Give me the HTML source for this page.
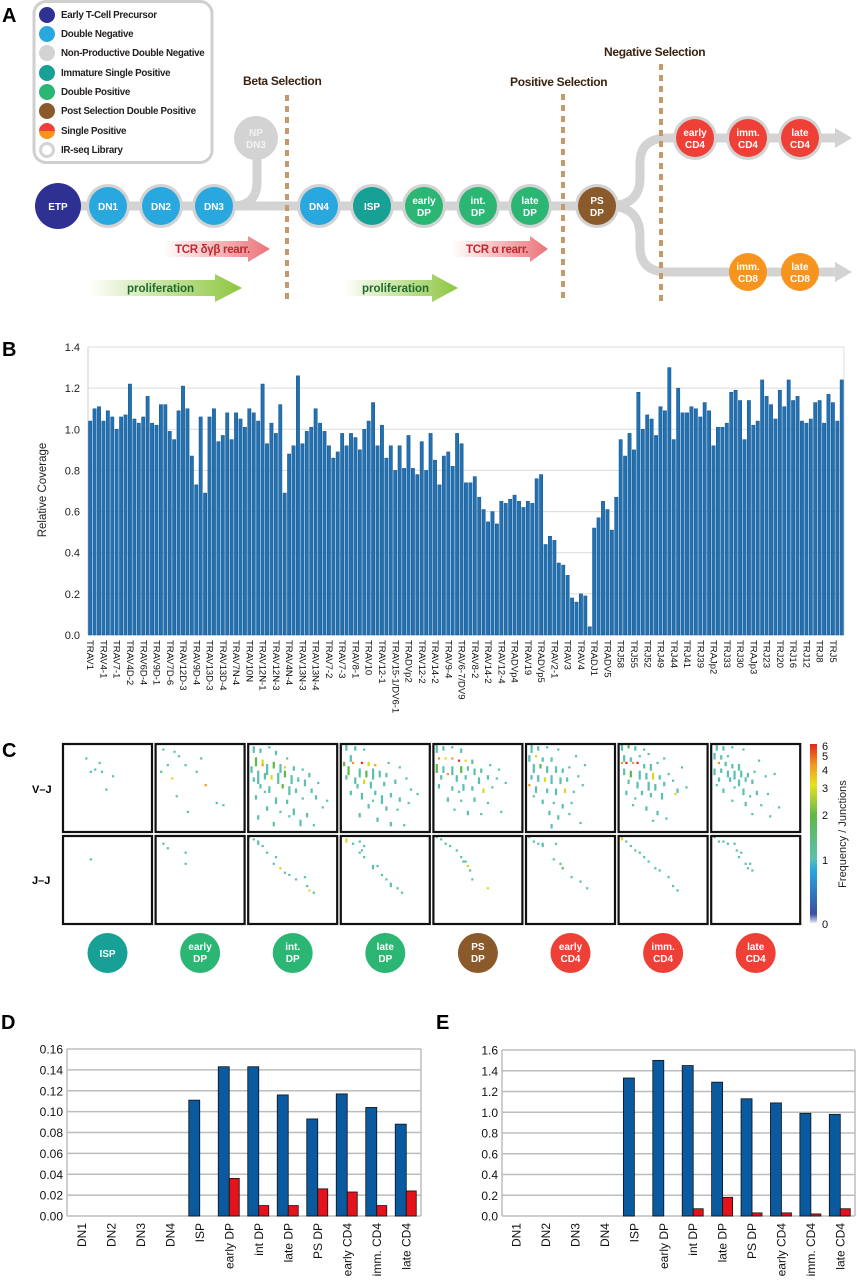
<!DOCTYPE html>
<html><head><meta charset="utf-8">
<style>
html,body{margin:0;padding:0;background:#fff;}
svg{display:block;font-family:"Liberation Sans",sans-serif;}
.lg{font-size:9.8px;font-weight:bold;fill:#231f20;letter-spacing:-0.3px;}
.ct{font-size:10px;font-weight:bold;fill:#fff;text-anchor:middle;}
.sel{font-size:12px;font-weight:bold;fill:#3a2212;letter-spacing:-0.3px;}
.tick{font-size:11px;fill:#222;}
.pl{font-size:20px;font-weight:bold;fill:#000;}
</style></head>
<body>
<svg id="fig" width="857" height="1280" viewBox="0 0 857 1280" xmlns="http://www.w3.org/2000/svg">
<defs>
<linearGradient id="gRed" x1="0" x2="1"><stop offset="0" stop-color="#e8646a" stop-opacity="0"/><stop offset="1" stop-color="#e8646a" stop-opacity="0.9"/></linearGradient>
<linearGradient id="gGreen" x1="0" x2="1"><stop offset="0" stop-color="#8dc63f" stop-opacity="0"/><stop offset="1" stop-color="#8dc63f"/></linearGradient>
<linearGradient id="gSP" x1="0" y1="0" x2="0" y2="1"><stop offset="0.5" stop-color="#ee4036"/><stop offset="0.5" stop-color="#f7941d"/></linearGradient>
<linearGradient id="gCbar" x1="0" y1="1" x2="0" y2="0">
<stop offset="0" stop-color="#e8e8f4"/><stop offset="0.05" stop-color="#3a4fa0"/><stop offset="0.3" stop-color="#27a9e1"/><stop offset="0.36" stop-color="#5cc0b0"/><stop offset="0.6" stop-color="#5fb848"/><stop offset="0.77" stop-color="#e6e21e"/><stop offset="0.88" stop-color="#f59a1e"/><stop offset="1" stop-color="#e0261e"/>
</linearGradient>
</defs>

<!-- PANEL A -->
<g>
<text class="pl" x="2" y="22">A</text>
<g>
<rect x="34" y="1.5" width="178" height="161" rx="12" fill="#fff" stroke="#cfcfcf" stroke-width="3"/>
<g><circle cx="47" cy="15" r="8" fill="#2e3192"/><text class="lg" x="61" y="18">Early T-Cell Precursor</text></g>
<g><circle cx="47" cy="34" r="8" fill="#29a8e0"/><text class="lg" x="61" y="37">Double Negative</text></g>
<g><circle cx="47" cy="53" r="8" fill="#d3d3d3"/><text class="lg" x="61" y="56">Non-Productive Double Negative</text></g>
<g><circle cx="47" cy="73" r="8" fill="#16a096"/><text class="lg" x="61" y="76">Immature Single Positive</text></g>
<g><circle cx="47" cy="92" r="8" fill="#2bb673"/><text class="lg" x="61" y="95">Double Positive</text></g>
<g><circle cx="47" cy="111" r="8" fill="#8b5a2b"/><text class="lg" x="61" y="114">Post Selection Double Positive</text></g>
<g><circle cx="47" cy="131" r="8" fill="url(#gSP)"/><text class="lg" x="61" y="134">Single Positive</text></g>
<g><circle cx="47" cy="150" r="6.5" fill="#fff" stroke="#d3d3d3" stroke-width="3"/><text class="lg" x="61" y="153">IR-seq Library</text></g>
</g>
<g fill="none" stroke="#d3d3d3" stroke-width="9">
<path d="M40 206 H620"/>
<path d="M232 206 Q257 206 257 182 V140"/>
<path d="M608 206 Q640 206 640 178 V163 Q640 138 668 138 H838"/>
<path d="M608 206 Q640 206 640 236 V247 Q640 272 668 272 H838"/>
</g>
<polygon points="835,128 852,138 835,148" fill="#d3d3d3"/>
<polygon points="835,262 852,272 835,282" fill="#d3d3d3"/>
<g stroke="#c49a6c" stroke-width="4" stroke-dasharray="6,5">
<line x1="287" y1="95" x2="287" y2="302"/>
<line x1="563" y1="94" x2="563" y2="302"/>
<line x1="661" y1="64" x2="661" y2="302"/>
</g>
<text class="sel" x="243" y="85">Beta Selection</text>
<text class="sel" x="510" y="86">Positive Selection</text>
<text class="sel" x="604" y="56">Negative Selection</text>
<g><polygon points="163,241 248,241 248,236 270,249 248,262 248,257 163,257" fill="url(#gRed)"/><text x="175" y="253" font-size="11.5" font-weight="bold" fill="#c1272d" letter-spacing="-0.3">TCR δγβ rearr.</text></g>
<g><polygon points="452,241 530,241 530,236 548,249 530,262 530,257 452,257" fill="url(#gRed)"/><text x="466" y="253" font-size="11.5" font-weight="bold" fill="#c1272d" letter-spacing="-0.3">TCR α rearr.</text></g>
<g><polygon points="88,280 215,280 215,274 242,288 215,302 215,296 88,296" fill="url(#gGreen)"/><text x="127" y="292" font-size="11.5" font-weight="bold" fill="#1c6b2c">proliferation</text></g>
<g><polygon points="343,280 432,280 432,274 458,288 432,302 432,296 343,296" fill="url(#gGreen)"/><text x="362" y="292" font-size="11.5" font-weight="bold" fill="#1c6b2c">proliferation</text></g>
<g id="nodes"></g>
</g>

<!-- PANEL B -->
<g id="panelB">
<text class="pl" x="2" y="356">B</text>
<text x="46" y="490" transform="rotate(-90 46 490)" text-anchor="middle" font-size="11.5" fill="#222">Relative Coverage</text>
</g>

<!-- PANEL C -->
<g id="panelC">
<text class="pl" x="2" y="757">C</text>
<text x="32" y="793" font-size="11" font-weight="bold">V–J</text>
<text x="32" y="884" font-size="11" font-weight="bold">J–J</text>
<rect x="810" y="744" width="7" height="179" fill="url(#gCbar)"/>
<text x="846" y="834" transform="rotate(-90 846 834)" text-anchor="middle" font-size="11" fill="#222">Frequency / Junctions</text>
</g>

<!-- PANEL D / E -->
<g id="panelD"><text class="pl" x="1" y="1029">D</text></g>
<g id="panelE"><text class="pl" x="436" y="1029">E</text></g>
</svg>

<script>
// ---------- Panel B data ----------
const bLabels = ["TRAV1","TRAV4-1","TRAV7-1","TRAV4D-2","TRAV6D-4","TRAV9D-1","TRAV7D-6","TRAV12D-3","TRAV9D-4","TRAV13D-3","TRAV13D-4","TRAV7N-4","TRAV10N","TRAV12N-1","TRAV12N-3","TRAV4N-4","TRAV13N-3","TRAV13N-4","TRAV7-2","TRAV7-3","TRAV8-1","TRAV10","TRAV12-1","TRAV15-1/DV6-1","TRADVp2","TRAV12-2","TRAV14-2","TRAV9-4","TRAV6-7/DV9","TRAV8-2","TRAV14-2","TRAV12-4","TRADVp4","TRAV19","TRADVp5","TRAV2-1","TRAV3","TRAV4","TRADJ1","TRADV5","TRJ58","TRJ55","TRJ52","TRJ49","TRJ44","TRJ41","TRJ39","TRAJp2","TRJ33","TRJ30","TRAJp3","TRJ23","TRJ20","TRJ16","TRJ12","TRJ8","TRJ5"];
const bValues = [1.04,1.10,1.11,1.04,1.09,1.06,1.00,1.06,1.07,1.22,1.05,1.03,1.06,1.16,1.03,1.02,1.12,1.12,0.99,0.95,1.09,1.21,1.10,0.87,0.73,1.06,0.69,1.06,1.10,0.94,0.97,1.08,0.95,1.08,1.05,1.01,1.10,1.08,1.04,1.22,0.93,1.03,0.98,1.12,0.69,0.88,0.92,1.26,0.93,0.99,1.01,1.10,1.03,0.99,0.92,0.86,0.89,0.98,0.92,0.98,0.96,0.90,1.00,1.04,1.13,0.92,1.02,0.86,0.92,0.80,0.92,0.81,0.97,0.81,0.78,0.94,0.80,0.98,
0.85,0.73,0.87,0.89,0.82,0.98,0.93,0.74,0.74,0.77,0.67,0.61,0.55,0.60,0.54,0.65,0.64,0.66,0.68,0.65,0.62,0.65,0.64,0.76,0.78,0.44,0.48,0.46,0.35,0.34,0.29,0.18,0.16,0.20,0.19,0.04,0.52,0.57,0.65,0.61,0.51,0.67,0.95,0.87,0.98,0.90,1.18,1.00,1.07,1.05,0.97,1.11,1.09,1.30,0.95,1.20,1.08,1.08,1.11,1.10,1.06,1.13,1.09,0.92,1.01,1.01,1.03,1.18,1.19,1.14,0.95,1.14,1.02,1.04,1.24,1.16,1.12,1.05,1.19,1.11,1.24,1.14,1.16,1.04,1.03,1.05,1.13,1.14,1.03,1.17,1.13,1.04,1.24];
const bTicks = [0,0.2,0.4,0.6,0.8,1.0,1.2,1.4];

// ---------- Panel C data: [col,row,height,value] on a 40x40 grid ----------
const cPanels = ["ISP","early DP","int. DP","late DP","PS DP","early CD4","imm. CD4","late CD4"];
const vj0=[[10,6,1,1],[16,8,1,1],[14,11,1,1],[17,12,1,1],[22,14,1,1],[12,12,1,1],[19,20,1,1]];
const vj1=[[3,2,1,1],[8,3,1,1],[10,5,1,1],[5,9,1,1],[13,9,1,1],[2,12,1,1],[18,12,1,1],[7,15,1,3],[22,18,1,4],[27,26,1,1],[30,27,1,1],[14,30,1,1],[9,23,1,1],[20,6,1,1]];
const vj2=[[2,1,3,1],[5,2,2,1],[9,1,1,1],[12,3,2,1],[3,6,4,2],[6,7,2,3],[8,9,5,1],[11,8,3,2],[14,9,4,1],[4,12,6,1],[7,13,3,1],[10,14,2,3],[13,13,5,1],[16,12,3,2],[19,14,4,1],[22,15,2,1],[25,16,3,1],[5,18,2,1],[9,19,3,1],[15,18,2,2],[18,19,4,1],[21,20,2,1],[28,20,2,1],[3,23,2,1],[12,24,3,1],[17,25,2,1],[24,24,1,1],[30,23,2,1],[8,28,2,1],[14,30,1,1],[20,29,3,1],[26,31,2,1],[33,28,1,1],[11,35,2,1],[23,34,3,1],[29,36,1,1],[6,9,1,4],[16,10,1,3],[1,10,3,1],[20,10,2,1],[2,15,2,1],[17,6,1,1],[24,11,1,1],[27,13,2,1],[31,17,1,1],[7,21,1,1],[35,25,1,1],[18,32,1,1],[4,32,2,1]];
const vj3=[[2,0,3,1],[6,1,2,1],[10,2,1,1],[4,5,3,1],[1,8,2,2],[5,8,1,4],[9,8,1,5],[12,8,2,3],[15,9,1,4],[3,10,4,2],[8,11,4,1],[11,12,3,2],[14,11,5,1],[17,12,3,1],[20,13,2,1],[6,15,3,1],[10,16,2,3],[13,17,3,1],[19,17,2,1],[24,16,2,1],[29,15,1,1],[4,21,2,1],[9,22,3,1],[15,21,2,1],[18,23,4,1],[22,22,2,1],[26,24,2,1],[31,20,1,1],[12,27,2,1],[20,28,2,1],[25,29,1,1],[8,31,2,1],[16,33,2,1],[22,35,2,1],[28,36,1,1],[34,22,1,1],[21,8,1,1],[26,10,1,1],[2,14,2,1],[7,18,2,1],[30,26,1,1],[14,25,1,1]];
const vj4=[[1,0,4,1],[4,1,2,1],[8,1,1,1],[12,2,2,1],[2,6,1,4],[5,6,1,3],[8,6,1,4],[11,7,1,5],[14,7,1,3],[17,7,2,1],[1,9,4,2],[4,10,3,1],[8,10,4,1],[12,10,3,2],[15,10,2,1],[18,11,3,1],[21,11,2,1],[6,13,1,4],[10,14,3,1],[14,14,2,1],[20,15,3,1],[24,14,2,1],[28,15,1,1],[2,18,2,1],[8,19,2,1],[13,18,3,1],[17,19,2,1],[22,20,2,3],[26,19,1,1],[6,24,2,1],[12,25,1,1],[18,24,2,1],[24,26,1,1],[9,29,1,1],[15,30,2,1],[21,31,1,1],[30,30,1,1],[25,9,1,1],[29,11,1,1],[3,14,2,1],[32,17,1,1],[11,21,1,1]];
const vj5=[[2,0,4,1],[5,1,2,1],[9,1,1,1],[14,2,1,1],[1,5,3,1],[4,5,1,3],[7,6,2,1],[11,6,2,1],[3,9,4,1],[6,9,2,2],[9,10,3,1],[13,10,3,1],[16,11,2,1],[19,10,1,1],[2,14,2,1],[5,14,3,1],[8,15,2,3],[11,14,4,1],[15,15,3,1],[18,15,2,1],[23,14,1,1],[1,18,1,4],[4,19,3,1],[9,20,2,1],[13,20,3,1],[17,20,2,3],[21,21,1,1],[7,25,2,1],[12,26,1,1],[16,27,2,1],[20,26,1,1],[10,30,2,1],[14,32,2,1],[19,31,1,1],[11,36,2,1],[24,35,1,1],[22,5,1,1],[26,9,1,1],[25,18,1,1],[3,23,1,1]];
const vj6=[[1,0,3,1],[4,0,2,2],[7,1,2,1],[11,2,1,1],[2,5,3,1],[5,6,2,1],[9,5,1,1],[13,4,1,1],[1,8,1,4],[3,8,1,5],[6,8,1,4],[8,8,1,5],[11,9,2,1],[14,9,3,1],[17,8,1,1],[2,11,3,1],[5,12,3,2],[9,12,4,1],[12,13,3,1],[15,13,3,3],[18,14,2,1],[22,13,1,1],[4,16,2,1],[8,17,3,1],[13,17,4,1],[16,18,3,1],[20,17,2,1],[24,16,1,1],[3,21,2,1],[10,21,2,1],[14,22,2,1],[19,22,3,1],[25,22,1,3],[6,27,1,1],[12,28,2,1],[17,30,2,1],[21,33,1,1],[26,20,2,1],[20,6,1,1],[28,10,1,1],[30,19,1,1],[7,24,1,1],[15,34,1,1]];
const vj7=[[2,0,3,1],[5,1,2,1],[9,1,1,1],[14,2,1,1],[1,4,3,1],[4,5,2,1],[7,5,1,1],[3,8,1,4],[6,8,2,1],[9,9,2,1],[12,9,3,1],[1,11,3,1],[4,11,2,1],[7,12,3,1],[10,12,4,1],[13,12,3,1],[16,13,2,1],[19,12,1,1],[3,15,2,1],[8,15,2,1],[12,16,3,1],[15,15,2,1],[18,16,2,1],[24,14,1,1],[28,13,1,1],[5,20,2,1],[10,19,1,1],[14,20,3,1],[20,21,2,1],[25,22,1,1],[9,25,1,1],[15,26,2,1],[22,27,1,1],[30,28,1,1],[18,31,1,1],[26,32,1,1],[21,7,1,1],[2,18,1,1],[17,23,1,1]];
const jj0=[[12,10,1,1]];
const jj1=[[3,3,1,1],[5,5,1,1],[13,7,1,1],[13,12,1,1]];
const jj2=[[0,0,1,1],[2,1,1,1],[4,2,2,1],[6,4,1,1],[8,7,1,1],[12,9,1,1],[11,12,1,1],[14,14,1,3],[16,16,1,1],[18,17,1,1],[21,19,1,1],[25,18,1,1],[26,22,1,1],[27,24,1,3],[29,25,1,1]];
const jj3=[[2,1,2,3],[5,3,1,1],[8,2,1,1],[10,4,1,1],[8,7,1,1],[10,9,1,1],[14,13,2,1],[16,13,1,1],[18,17,1,1],[20,19,1,1],[22,21,2,1],[25,23,1,1],[27,25,1,1],[9,6,1,1]];
const jj4=[[1,0,1,1],[3,1,1,1],[5,3,1,1],[7,4,1,1],[10,6,1,1],[12,9,1,1],[14,11,1,1],[15,13,1,3],[16,15,1,1],[17,19,1,1],[24,23,1,3],[13,11,1,1]];
const jj5=[[1,0,1,1],[3,2,1,1],[5,3,1,1],[7,3,2,1],[13,3,1,1],[12,10,1,1],[15,12,1,1],[16,14,1,2],[20,18,1,1],[24,20,1,1],[27,23,1,1]];
const jj6=[[1,0,2,3],[3,2,1,1],[5,4,1,1],[7,6,1,1],[9,7,1,1],[11,9,1,1],[13,11,1,1],[16,14,1,1],[18,15,1,1],[22,18,1,1],[24,22,1,1],[26,24,1,1]];
const jj7=[[1,0,1,1],[3,2,1,1],[5,2,1,1],[7,3,1,1],[10,3,1,1],[11,6,1,1],[13,7,1,1],[12,9,1,1],[15,12,1,1],[16,14,1,1],[18,15,1,1],[17,12,1,1]];
const cbTicks = [0,1,2,3,4,5,6];

// ---------- Panel D/E data ----------
const deCats = ["DN1","DN2","DN3","DN4","ISP","early DP","int DP","late DP","PS DP","early CD4","imm. CD4","late CD4"];
const dBlue = [0,0,0,0,0.111,0.143,0.143,0.116,0.093,0.117,0.104,0.088];
const dRed  = [0,0,0,0,0,0.036,0.010,0.010,0.026,0.023,0.010,0.024];
const dTicks = [0,0.02,0.04,0.06,0.08,0.10,0.12,0.14,0.16];
const eBlue = [0,0,0,0,1.33,1.50,1.45,1.29,1.13,1.09,0.99,0.98];
const eRed  = [0,0,0,0,0,0,0.07,0.18,0.03,0.03,0.02,0.07];
const eTicks = [0,0.2,0.4,0.6,0.8,1.0,1.2,1.4,1.6];

const NS="http://www.w3.org/2000/svg";
function mk(tag, attrs, parent){const e=document.createElementNS(NS,tag);for(const k in attrs)e.setAttribute(k,attrs[k]);parent.appendChild(e);return e;}

// ---------- Panel A nodes ----------
const nodes=document.getElementById('nodes');
const nodeList=[["ETP",58,206,"#2e3192",0],["DN1",108,206,"#29a8e0",1],["DN2",161,206,"#29a8e0",1],["DN3",214,206,"#29a8e0",1],["NP|DN3",256,138,"#d3d3d3",1],["DN4",319,206,"#29a8e0",1],["ISP",372,206,"#16a096",1],["early|DP",424,206,"#2bb673",1],["int.|DP",478,206,"#2bb673",1],["late|DP",530,206,"#2bb673",1],["PS|DP",597,206,"#8b5a2b",1],["early|CD4",695,138,"#ee4036",1],["imm.|CD4",748,138,"#ee4036",1],["late|CD4",800,138,"#ee4036",1],["imm.|CD8",748,272,"#f7941d",0],["late|CD8",800,272,"#f7941d",0]];
nodeList.forEach(n=>{
  const g=mk('g',{},nodes);
  
  
  if(n[4]) mk('circle',{cx:n[1],cy:n[2],r:22,fill:"#d3d3d3"},g);
  mk('circle',{cx:n[1],cy:n[2],r:n[0]==="ETP"?23:19,fill:n[3]},g);
  const parts=n[0].split('|');
  const tc=n[0].startsWith("NP")?"#f2f2f2":"#fff";
  if(parts.length===1){const t=mk('text',{x:n[1],y:n[2]+4,class:'ct',fill:tc},g);t.textContent=parts[0];}
  else parts.forEach((p,i)=>{const t=mk('text',{x:n[1],y:n[2]-2+i*12,class:'ct'},g);t.style.fill=tc;t.textContent=p;});
});

// ---------- Panel B ----------
(function(){
  const P=document.getElementById('panelB');
  const x0=88,x1=844,yTop=347,yBot=635,vmax=1.4;
  const ys=v=>yBot-(v/vmax)*(yBot-yTop);
  const pitch=(x1-x0)/bValues.length;
  const xs=i=>x0+i*pitch;
  bTicks.forEach(t=>{
    const l=mk('line',{x1:x0,x2:x1,y1:ys(t),y2:ys(t),stroke:"#dcdcdc","stroke-width":1},P);
    
    const tx=mk('text',{x:x0-8,y:ys(t)+4,"text-anchor":"end",class:"tick"},P);
    
    tx.textContent=t.toFixed(1);
  });
  const fr=mk('line',{x1:x1,x2:x1,y1:yTop,y2:yBot,stroke:"#dcdcdc"},P);
  
  const ax=mk('line',{x1:x0,x2:x0,y1:yTop,y2:yBot,stroke:"#cfcfcf"},P);
  
  bValues.forEach((v,i)=>{
    const r=mk('rect',{x:xs(i)+0.5,y:ys(v),width:pitch-1.1,height:yBot-ys(v),fill:"#2271b3",stroke:"#17558a","stroke-width":0.5},P);
    
  });
  bLabels.forEach((s,i)=>{
    const x=xs(i*3)+pitch/2-3;
    const t=mk('text',{x:x,y:640,transform:`rotate(90 ${x} 640)`,"font-size":"9.5",fill:"#111"},P);
    
    t.textContent=s;
  });
})();

// ---------- Panel C ----------
(function(){
  const P=document.getElementById('panelC');
  const vj=[vj0,vj1,vj2,vj3,vj4,vj5,vj6,vj7], jj=[jj0,jj1,jj2,jj3,jj4,jj5,jj6,jj7];
  const cols=["#5cc0b0","#5fb848","#dcd81e","#f39a1e","#e2301e"];
  const circ=["#16a096","#2bb673","#2bb673","#2bb673","#8b5a2b","#ee4036","#ee4036","#ee4036"];
  const bw=89,pitch=92.6,bx0=63,cell=bw/40;
  const rows=[[744,vj],[836,jj]];
  cPanels.forEach((name,i)=>{
    const bx=bx0+i*pitch;
    rows.forEach(([by,data],ri)=>{
      data[i].forEach(d=>{
        const r=mk('rect',{x:bx+d[0]*cell,y:by+d[1]*cell,width:cell,height:cell*d[2],fill:cols[d[3]-1]},P);
        
      });
      const b=mk('rect',{x:bx,y:by,width:bw,height:88,fill:"none",stroke:"#111","stroke-width":2.2},P);
      
    });
    const g=mk('g',{},P);
    
    const cx=bx+bw/2;
    mk('circle',{cx:cx,cy:953,r:20,fill:circ[i]},g);
    const parts=name.split(' ');
    if(parts.length===1){const t=mk('text',{x:cx,y:957,class:'ct'},g);t.textContent=parts[0];}
    else parts.forEach((p,k)=>{const t=mk('text',{x:cx,y:950+k*12,class:'ct'},g);t.textContent=p;});
  });
  const cbY={0:923,1:859,2:814,3:787,4:769,5:755,6:745};
  cbTicks.forEach(t=>{
    const tx=mk('text',{x:822,y:cbY[t]+5,"font-size":"11",fill:"#111"},P);
    
    tx.textContent=t;
  });
})();

// ---------- Panels D and E ----------
function barChart(P,x0,x1,yTop,yBot,ticks,blue,red,dec,prefix){
  const vmax=ticks[ticks.length-1];
  const ys=v=>yBot-(v/vmax)*(yBot-yTop);
  const pitch=(x1-x0)/deCats.length;
  ticks.forEach(t=>{
    const l=mk('line',{x1:x0,x2:x1,y1:ys(t),y2:ys(t),stroke:"#bdbdbd","stroke-width":1.5},P);
    
    const tx=mk('text',{x:x0-4,y:ys(t)+4.5,"text-anchor":"end","font-size":"12",fill:"#111"},P);
    
    tx.textContent=t.toFixed(dec);
  });
  mk('line',{x1:x0,x2:x0,y1:yTop,y2:yBot,stroke:"#bdbdbd","stroke-width":1.5},P);
  mk('line',{x1:x1,x2:x1,y1:yTop,y2:yBot,stroke:"#bdbdbd","stroke-width":1.5},P);
  deCats.forEach((c,i)=>{
    const cx=x0+(i+0.5)*pitch;
    if(blue[i]>0){const r=mk('rect',{x:cx-11,y:ys(blue[i]),width:11,height:yBot-ys(blue[i]),fill:"#0a5aa0",stroke:"#111","stroke-width":0.8},P);
      }
    if(red[i]>0){const r=mk('rect',{x:cx,y:ys(red[i]),width:10,height:yBot-ys(red[i]),fill:"#e3121b",stroke:"#111","stroke-width":0.8},P);
      }
    const ty=yBot+7;
    const t=mk('text',{x:cx+4,y:ty,transform:`rotate(-90 ${cx+4} ${ty})`,"text-anchor":"end","font-size":"12",fill:"#111"},P);
    
    t.textContent=c;
  });
}
barChart(document.getElementById('panelD'),67,421,1049,1216,dTicks,dBlue,dRed,2,'d');
barChart(document.getElementById('panelE'),502,855,1050,1216,eTicks,eBlue,eRed,1,'e');
</script>
</body></html>
